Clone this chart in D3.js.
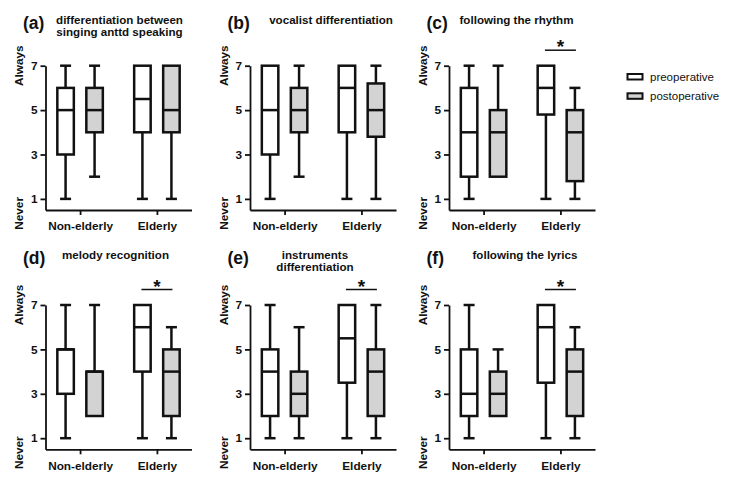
<!DOCTYPE html>
<html>
<head>
<meta charset="utf-8">
<script src="https://cdn.jsdelivr.net/npm/d3@7"></script>
<style>
  html, body { margin: 0; padding: 0; background: #fff; }
  svg { display: block; }
  text { font-family: "Liberation Sans", Arial, Helvetica, sans-serif; fill: #111; }
</style>
</head>
<body>
<svg id="chart" width="729" height="484"></svg>
<script>
// ---------- data ----------
const categories = ["Non-elderly", "Elderly"];
const series = ["preoperative", "postoperative"];
const yTicks = [1, 3, 5, 7];
const yTopLabel = "Always";
const yBottomLabel = "Never";
const panelLetters = ["(a)", "(b)", "(c)", "(d)", "(e)", "(f)"];
const panelTitles = [
  ["differentiation between", "singing anttd speaking"],
  ["vocalist differentiation"],
  ["following the rhythm"],
  ["melody recognition"],
  ["instruments", "differentiation"],
  ["following the lyrics"]
];
// box stats: [min, q1, median, q3, max] for [Non-elderly, Elderly]
const preA  = [[1, 3, 5, 6, 7], [1, 4, 5.5, 7, 7]];
const postA = [[2, 4, 5, 6, 7], [1, 4, 5, 7, 7]];
const preB  = [[1, 3, 5, 7, 7], [1, 4, 6, 7, 7]];
const postB = [[2, 4, 5, 6, 7], [1, 3.8, 5, 6.2, 7]];
const preC  = [[1, 2, 4, 6, 7], [1, 4.8, 6, 7, 7]];
const postC = [[2, 2, 4, 5, 7], [1, 1.8, 4, 5, 6]];
const preD  = [[1, 3, 5, 5, 7], [1, 4, 6, 7, 7]];
const postD = [[2, 2, 4, 4, 7], [1, 2, 4, 5, 6]];
const preE  = [[1, 2, 4, 5, 7], [1, 3.5, 5.5, 7, 7]];
const postE = [[1, 2, 3, 4, 6], [1, 2, 4, 5, 7]];
const preF  = [[1, 2, 3, 5, 7], [1, 3.5, 6, 7, 7]];
const postF = [[2, 2, 3, 4, 5], [1, 2, 4, 5, 6]];
const preStats  = [preA, preB, preC, preD, preE, preF];
const postStats = [postA, postB, postC, postD, postE, postF];
const significantElderly = [false, false, true, true, true, true];
const sigMark = "*";

// ---------- layout ----------
const colX = [45.5, 250, 449];
const rowY = [65.7, 305];
const plotW = 146;
const plotH = 144.3;
const titleDx = [74, 81, 67.5, 70, 65, 76];
const titleBase = [24, 259];
const fills = { preoperative: "#ffffff", postoperative: "#d3d3d3" };
const ink = "#111";

const svg = d3.select("#chart");

const y = d3.scaleLinear().domain([0.5, 7]).range([plotH, 0]);
const x = d3.scalePoint().domain(categories).range([0, plotW]).padding(0.45);
const xs = d3.scalePoint().domain(series).range([-14.5, 14.5]);
const boxW = 16.5, capW = 11;

panelLetters.forEach((letter, i) => {
  const col = i % 3, row = Math.floor(i / 3);
  const g = svg.append("g").attr("transform", `translate(${colX[col]},${rowY[row]})`);

  // axes
  const yAxis = g.append("g")
    .call(d3.axisLeft(y).tickValues(yTicks).tickFormat(d3.format("d")).tickSize(5).tickSizeOuter(0).tickPadding(3));
  const xAxis = g.append("g").attr("transform", `translate(0,${plotH})`)
    .call(d3.axisBottom(x).tickSize(5).tickSizeOuter(0).tickPadding(7));
  [yAxis, xAxis].forEach(a => {
    a.selectAll("path, line").attr("stroke", ink).attr("stroke-width", 1.8);
    a.selectAll("text").attr("font-size", 11.8).attr("font-weight", "bold").attr("fill", ink)
      .style("font-family", '"Liberation Sans", Arial, sans-serif');
  });

  // y end labels
  g.append("text").attr("transform", `translate(-22.5,${y(7)}) rotate(-90)`)
    .attr("text-anchor", "middle").attr("font-size", 11.8).attr("font-weight", "bold")
    .text(yTopLabel);
  g.append("text").attr("transform", `translate(-22.5,${y(1) + 14.5}) rotate(-90)`)
    .attr("text-anchor", "middle").attr("font-size", 11.8).attr("font-weight", "bold")
    .text(yBottomLabel);

  // letter & title
  svg.append("text").attr("x", colX[col] - 22.5).attr("y", titleBase[row] + 4.5)
    .attr("font-size", 17.5).attr("font-weight", "bold").text(letter);
  panelTitles[i].forEach((line, k) => {
    svg.append("text").attr("x", colX[col] + titleDx[i]).attr("y", titleBase[row] + k * 12)
      .attr("text-anchor", "middle").attr("font-size", 11.6).attr("font-weight", "bold")
      .text(line);
  });

  // boxes
  series.forEach(s => {
    const stats = s === "preoperative" ? preStats[i] : postStats[i];
    categories.forEach((c, ci) => {
      const [mn, q1, md, q3, mx] = stats[ci];
      const cx = x(c) + xs(s);
      const bg = g.append("g").attr("stroke", ink).attr("stroke-width", 2.5);
      if (mx > q3) {
        bg.append("line").attr("x1", cx).attr("x2", cx).attr("y1", y(q3)).attr("y2", y(mx));
        bg.append("line").attr("x1", cx - capW / 2).attr("x2", cx + capW / 2).attr("y1", y(mx)).attr("y2", y(mx));
      }
      if (mn < q1) {
        bg.append("line").attr("x1", cx).attr("x2", cx).attr("y1", y(q1)).attr("y2", y(mn));
        bg.append("line").attr("x1", cx - capW / 2).attr("x2", cx + capW / 2).attr("y1", y(mn)).attr("y2", y(mn));
      }
      bg.append("rect").attr("x", cx - boxW / 2).attr("width", boxW)
        .attr("y", y(q3)).attr("height", y(q1) - y(q3)).attr("fill", fills[s]);
      bg.append("line").attr("x1", cx - boxW / 2).attr("x2", cx + boxW / 2).attr("y1", y(md)).attr("y2", y(md));
    });
  });

  // significance
  if (significantElderly[i]) {
    const cx = x("Elderly");
    const by = y(7) - 15.5;
    g.append("line").attr("x1", cx - 15.5).attr("x2", cx + 15.5).attr("y1", by).attr("y2", by)
      .attr("stroke", ink).attr("stroke-width", 1.5);
    g.append("text").attr("x", cx).attr("y", by + 3).attr("text-anchor", "middle")
      .attr("font-size", 19).attr("font-weight", "bold").text(sigMark);
  }
});

// legend
const leg = svg.append("g").attr("transform", "translate(627.5,74)");
series.forEach((s, k) => {
  const lg = leg.append("g").attr("transform", `translate(0,${k * 19.3})`);
  lg.append("rect").attr("width", 15).attr("height", 5.5).attr("fill", fills[s])
    .attr("stroke", ink).attr("stroke-width", 2);
  lg.append("text").attr("x", 22.5).attr("y", 6.5).attr("font-size", 11.5).attr("fill", "#222").text(s);
});
</script>
</body>
</html>
